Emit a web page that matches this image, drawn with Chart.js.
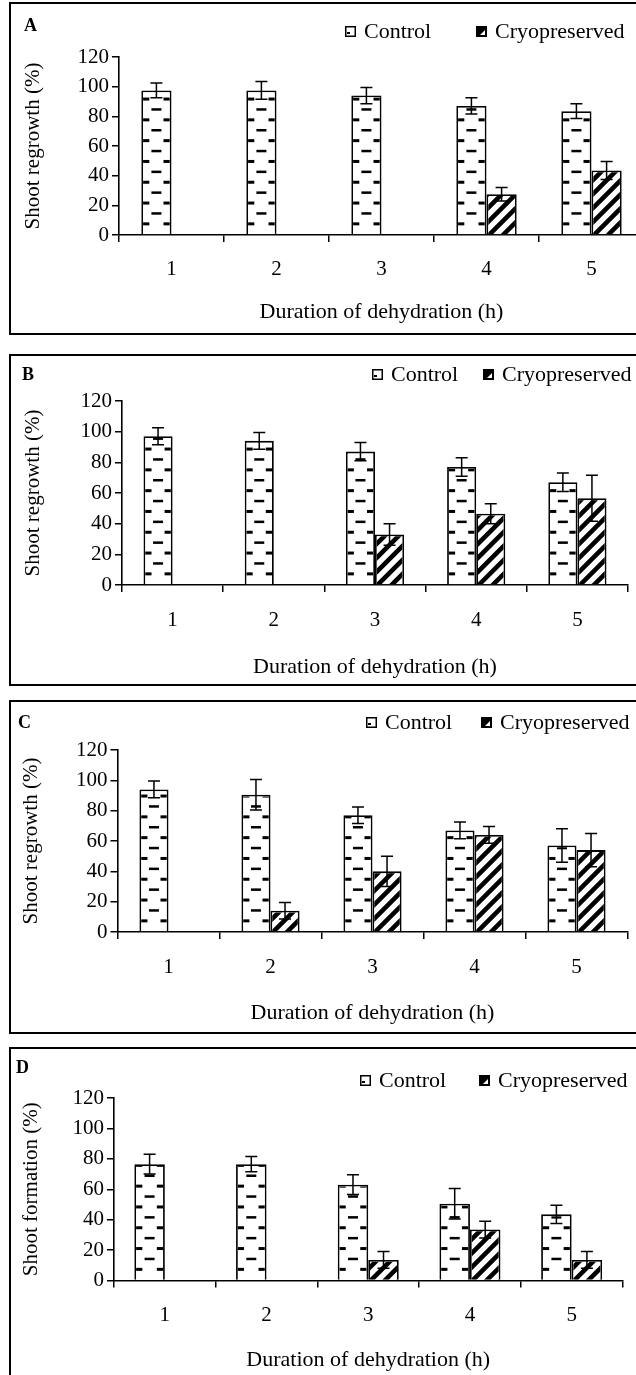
<!DOCTYPE html>
<html>
<head>
<meta charset="utf-8">
<script src="https://cdn.jsdelivr.net/npm/chart.js@4.4.1/dist/chart.umd.min.js"></script>
<style>
html, body { margin:0; padding:0; background:#fff; overflow:hidden; width:636px; height:1375px; }
.panel { position:absolute; border:2px solid #000; box-sizing:border-box; }
.panel canvas { position:absolute; left:0; top:0; }
.tag { position:absolute; font:bold 18px 'Liberation Serif', serif; line-height:18px; }
.leg { position:absolute; font:22px 'Liberation Serif', serif; line-height:22px; white-space:nowrap; }
.ico { position:absolute; }
</style>
</head>
<body>
<script>
// categories and y ticks
const hours = ['1', '2', '3', '4', '5'];
const yTicks = [0, 20, 40, 60, 80, 100, 120];

// panel A
const ctrlA = [97.5, 97.5, 94, 87, 83.5];
const ctrlErrA = [5, 6, 5.5, 5.5, 5];
const cryoA = [0, 0, 0, 27.5, 43.5];
const cryoErrA = [0, 0, 0, 4.5, 6];
// panel B
const ctrlB = [97, 94, 87, 77, 67];
const ctrlErrB = [5.5, 5.5, 6, 6, 6];
const cryoB = [0, 0, 33, 46.5, 56.5];
const cryoErrB = [0, 0, 7, 6.5, 15];
// panel C
const ctrlC = [94, 90.5, 77, 67, 57];
const ctrlErrC = [5.5, 10, 5.5, 5.5, 11];
const cryoC = [0, 14, 40, 64, 54];
const cryoErrC = [0, 5.5, 10, 5.5, 11];
// panel D
const ctrlD = [76.5, 76.5, 63, 50.5, 43.5];
const ctrlErrD = [6.5, 5, 6.5, 10, 6];
const cryoD = [0, 0, 13.5, 33.5, 13.5];
const cryoErrD = [0, 0, 5.5, 5.5, 5.5];

const panels = [
  {tag:'A', yTitle:'Shoot regrowth (%)', ctrl:ctrlA, ctrlErr:ctrlErrA, cryo:cryoA, cryoErr:cryoErrA},
  {tag:'B', yTitle:'Shoot regrowth (%)', ctrl:ctrlB, ctrlErr:ctrlErrB, cryo:cryoB, cryoErr:cryoErrB},
  {tag:'C', yTitle:'Shoot regrowth (%)', ctrl:ctrlC, ctrlErr:ctrlErrC, cryo:cryoC, cryoErr:cryoErrC},
  {tag:'D', yTitle:'Shoot formation (%)', ctrl:ctrlD, ctrlErr:ctrlErrD, cryo:cryoD, cryoErr:cryoErrD}
];

// page layout of each panel (px)
const layouts = [
  {box:{left:9, top:2, width:650, height:333}, area:{left:119, right:644, top:57, bottom:235},
   tickY:269, titleY:312, yTitleX:33, catPct:0.575, tagX:24, tagY:25, legY:31, legX:[364, 495]},
  {box:{left:9, top:354, width:650, height:332}, area:{left:122, right:628, top:401, bottom:585},
   tickY:620, titleY:667, yTitleX:33, catPct:0.575, tagX:22, tagY:374, legY:374, legX:[391, 502]},
  {box:{left:9, top:700, width:650, height:334}, area:{left:117.5, right:627.5, top:750, bottom:932},
   tickY:967, titleY:1013, yTitleX:31, catPct:0.57, tagX:18, tagY:722, legY:722, legX:[385, 500]},
  {box:{left:9, top:1047, width:650, height:340}, area:{left:114, right:622.5, top:1098, bottom:1280.5},
   tickY:1315, titleY:1360, yTitleX:31, catPct:0.6, tagX:16, tagY:1067, legY:1080, legX:[379, 498]}
];

Chart.defaults.font.family = "'Liberation Serif', 'Times New Roman', serif";
Chart.defaults.color = '#000';

// fill patterns drawn inside each bar
const patternPlugin = {
  id: 'barPatterns',
  afterDatasetDraw(chart, args) {
    const ctx = chart.ctx;
    const ds = chart.data.datasets[args.index];
    args.meta.data.forEach(el => {
      const {x, y, base, width} = el.getProps(['x', 'y', 'base', 'width'], true);
      const T = Math.min(y, base), B = Math.max(y, base);
      if (B - T < 1) return;
      const L = x - width / 2, R = x + width / 2;
      ctx.save();
      ctx.beginPath();
      ctx.rect(L + 1.8, T + 1.8, width - 3.6, B - T - 1.8);
      ctx.clip();
      ctx.fillStyle = '#000';
      if (ds.pattern === 'dash') {
        const step = 10.4;
        for (let j = 1; B - j * step > T; j++) {
          const yy = B - j * step;
          if (j % 2) {
            ctx.fillRect(L, yy - 1.5, 8, 3);
            ctx.fillRect(R - 8, yy - 1.5, 8, 3);
          } else {
            ctx.fillRect(x - 5, yy - 1.25, 10, 2.5);
          }
        }
      } else {
        const P = 14, bw = 6.5, h = B - T;
        ctx.beginPath();
        for (let d = -Math.ceil(h / P) * P; d < width + P; d += P) {
          ctx.moveTo(L + d, B);
          ctx.lineTo(L + d + bw, B);
          ctx.lineTo(L + d + bw + h, T);
          ctx.lineTo(L + d + h, T);
          ctx.closePath();
        }
        ctx.fill();
      }
      ctx.restore();
    });
  }
};

// error bars
const errorPlugin = {
  id: 'errorBars',
  afterDatasetsDraw(chart) {
    const ctx = chart.ctx, ys = chart.scales.y;
    ctx.save();
    ctx.strokeStyle = '#000';
    ctx.lineWidth = 1.5;
    chart.data.datasets.forEach((ds, i) => {
      const meta = chart.getDatasetMeta(i);
      ds.errors.forEach((e, j) => {
        if (!e) return;
        const v = ds.data[j], cx = meta.data[j].x;
        const y1 = ys.getPixelForValue(v + e), y2 = ys.getPixelForValue(v - e);
        ctx.beginPath();
        ctx.moveTo(cx, y1); ctx.lineTo(cx, y2);
        ctx.moveTo(cx - 6, y1); ctx.lineTo(cx + 6, y1);
        ctx.moveTo(cx - 6, y2); ctx.lineTo(cx + 6, y2);
        ctx.stroke();
      });
    });
    ctx.restore();
  }
};

function drawIcon(c, kind) {
  const g = c.getContext('2d');
  g.fillStyle = kind === 'dash' ? '#fff' : '#000';
  g.fillRect(0, 0, 11, 11);
  g.strokeStyle = '#000';
  g.lineWidth = 1.5;
  g.strokeRect(0.75, 0.75, 9.5, 9.5);
  if (kind === 'dash') {
    g.fillStyle = '#000';
    g.fillRect(2, 6, 3, 2);
  } else {
    g.fillStyle = '#fff';
    g.beginPath();
    g.moveTo(9, 4); g.lineTo(9, 9); g.lineTo(4, 9);
    g.closePath();
    g.fill();
  }
}

panels.forEach((p, k) => {
  const Lo = layouts[k];
  const div = document.createElement('div');
  div.className = 'panel';
  div.style.left = Lo.box.left + 'px';
  div.style.top = Lo.box.top + 'px';
  div.style.width = Lo.box.width + 'px';
  div.style.height = Lo.box.height + 'px';
  document.body.appendChild(div);

  const inL = Lo.box.left + 2, inT = Lo.box.top + 2;
  const W = Lo.box.width - 4, H = Lo.box.height - 4;
  const cv = document.createElement('canvas');
  cv.width = W; cv.height = H;
  div.appendChild(cv);

  const yW = Lo.area.left - inL;
  const xH = inT + H - Lo.area.bottom;

  const chart = new Chart(cv, {
    type: 'bar',
    data: {
      labels: hours,
      datasets: [
        {label:'Control', data:p.ctrl, errors:p.ctrlErr, pattern:'dash',
         backgroundColor:'#fff', borderColor:'#000', borderWidth:1.8,
         categoryPercentage:Lo.catPct, barPercentage:1},
        {label:'Cryopreserved', data:p.cryo, errors:p.cryoErr, pattern:'diag',
         backgroundColor:'#fff', borderColor:'#000', borderWidth:1.8,
         categoryPercentage:Lo.catPct, barPercentage:1}
      ]
    },
    options: {
      responsive: false,
      animation: false,
      devicePixelRatio: 1,
      layout: {padding: {top: Lo.area.top - inT, right: W - (Lo.area.right - inL), left: 0, bottom: 0}},
      plugins: {legend: {display: false}, tooltip: {enabled: false}},
      scales: {
        x: {
          offset: true,
          grid: {display: true, offset: true, drawOnChartArea: false, drawTicks: true, tickLength: 7, color: '#000', lineWidth: 1.5},
          border: {display: true, color: '#000', width: 1.6},
          ticks: {font: {size: 21}, color: '#000', padding: Lo.tickY - Lo.area.bottom - 7 - 12.6, maxRotation: 0},
          title: {display: true, text: 'Duration of dehydration (h)', font: {size: 22}, color: '#000',
                  padding: {top: 0, bottom: inT + H - Lo.titleY - 13.2}},
          afterFit(s) { s.height = xH; }
        },
        y: {
          min: yTicks[0], max: yTicks[yTicks.length - 1],
          ticks: {stepSize: yTicks[1] - yTicks[0], font: {size: 21}, color: '#000', padding: 3},
          grid: {drawOnChartArea: false, drawTicks: true, tickLength: 7, color: '#000', lineWidth: 1.5},
          border: {display: true, color: '#000', width: 1.6},
          title: {display: true, text: p.yTitle, font: {size: 21}, color: '#000',
                  padding: {top: Lo.yTitleX - inL - 12.6, bottom: 0}},
          afterFit(s) { s.width = yW; }
        }
      }
    },
    plugins: [patternPlugin, errorPlugin]
  });

  // panel letter
  const t = document.createElement('div');
  t.className = 'tag';
  t.textContent = p.tag;
  t.style.left = (Lo.tagX - inL) + 'px';
  t.style.top = (Lo.tagY - inT - 9) + 'px';
  div.appendChild(t);

  // legend from the datasets
  chart.data.datasets.forEach((ds, i) => {
    const ic = document.createElement('canvas');
    ic.width = 11; ic.height = 11;
    ic.className = 'ico';
    ic.style.left = (Lo.legX[i] - 19 - inL) + 'px';
    ic.style.top = (Lo.legY - inT - 5.5) + 'px';
    drawIcon(ic, ds.pattern);
    div.appendChild(ic);
    const s = document.createElement('div');
    s.className = 'leg';
    s.textContent = ds.label;
    s.style.left = (Lo.legX[i] - inL) + 'px';
    s.style.top = (Lo.legY - inT - 11) + 'px';
    div.appendChild(s);
  });
});
</script>
</body>
</html>
